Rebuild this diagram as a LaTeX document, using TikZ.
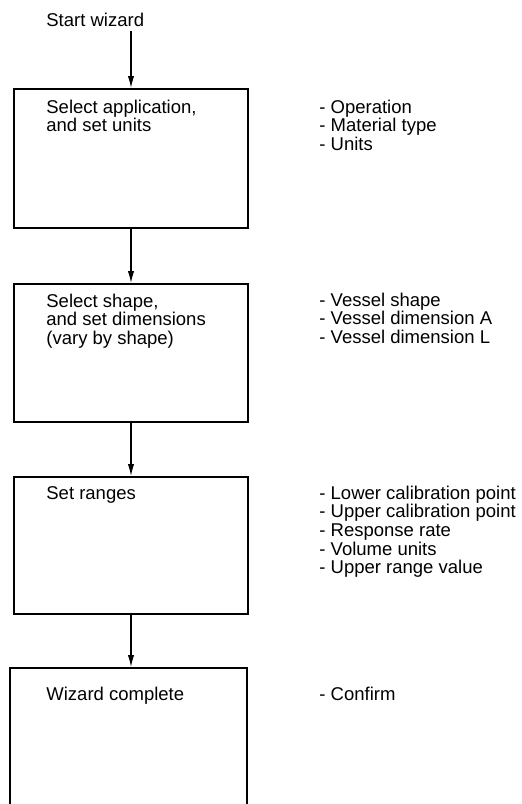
\documentclass[tikz,border=0pt]{standalone}
\usepackage{fontspec}
\setmainfont{Liberation Sans}
\usetikzlibrary{arrows.meta}

\begin{document}
\begin{tikzpicture}[x=0.5pt,y=-0.5pt,
  font=\fontsize{9.25}{9.35}\selectfont,
  arr/.style={-{Latex[length=6pt,width=3.2pt]},semithick},
  stepbox/.style={draw,line width=1pt,minimum width=117pt,inner sep=0pt},
  txt/.style={anchor=base west,align=left,inner sep=0pt}]
\clip (0,0) rectangle (521,804);
% start label
\node[txt] (start) at (46,26) {Start wizard};
% boxes of the wizard
\node[stepbox,minimum height=69.5pt] (s1) at (131,158.5) {};
\node[stepbox,minimum height=69pt]   (s2) at (131,353)   {};
\node[stepbox,minimum height=68.5pt] (s3) at (131,545.5) {};
\node[stepbox,minimum width=118.5pt,minimum height=86pt] (s4) at (128.5,754) {};
% texts inside the boxes (base = last line)
\node[txt] (t1) at (46,131.7) {Select application,\\and set units};
\node[txt] (t2) at (46,344.4) {Select shape,\\and set dimensions\\(vary by shape)};
\node[txt] (t3) at (46,499) {Set ranges};
\node[txt] (t4) at (46,700) {Wizard complete};
% notes on the right
\node[txt] (n1) at (319,150.4) {- Operation\\- Material type\\- Units};
\node[txt] (n2) at (319,343.4) {- Vessel shape\\- Vessel dimension A\\- Vessel dimension L};
\node[txt] (n3) at (319,573.8) {- Lower calibration point\\- Upper calibration point\\- Response rate\\- Volume units\\- Upper range value};
\node[txt] (n4) at (319,700) {- Confirm};
% arrows
\draw[arr] ([yshift=-2pt]start.south -| s1.north) -- (s1.north);
\draw[arr] (s1.south) -- (s2.north);
\draw[arr] (s2.south) -- (s3.north);
\draw[arr] (s3.south) -- (s3.south |- s4.north);
\end{tikzpicture}
\end{document}
